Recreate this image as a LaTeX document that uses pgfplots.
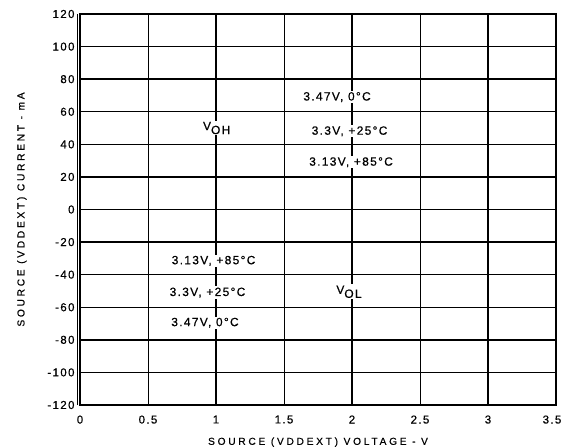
\documentclass[border=0pt]{standalone}
\usepackage{pgfplots}
\pgfplotsset{compat=1.18}
\usepackage{fontspec}
\setmainfont{Liberation Sans}
\newfontfamily\tickfont[LetterSpace=12,FakeBold=0.5]{Liberation Sans}
\newfontfamily\labfont[LetterSpace=27,FakeBold=0.4]{Liberation Sans}
\newfontfamily\txtfont[LetterSpace=11,FakeBold=0.5]{Liberation Sans}
\begin{document}
\begin{tikzpicture}
\begin{axis}[
  scale only axis,
  width=476bp, height=391bp,
  xmin=0, xmax=3.5, ymin=-120, ymax=120,
  xtick={0,0.5,1,1.5,2,2.5,3,3.5},
  xticklabels={0,0.5,1,1.5,2,2.5,3,3.5\kern8bp},
  ytick={-120,-100,-80,-60,-40,-20,0,20,40,60,80,100,120},
  /pgf/number format/assume math mode=true,
  tick label style={font=\tickfont\fontsize{11.5}{12}\selectfont},
  major tick length=0pt,
  xticklabel style={yshift=-7bp},
  yticklabel style={xshift=-2bp},
  xmajorgrids, ymajorgrids,
  x grid style={line width=0.6pt, black},
  y grid style={line width=1.5pt, black},
  axis line style={line width=1.3pt},
  xlabel={SOURCE (VDDEXT) VOLTAGE - V},
  ylabel={SOURCE (VDDEXT) CURRENT - mA},
  label style={font=\labfont\fontsize{10.2}{11}\selectfont},
  xlabel style={yshift=-7bp},
  ylabel style={yshift=14bp},
  clip=false,
]
\addplot[draw=none, forget plot] coordinates {(0,0) (3.5,0)};
% thicker lines at 1, 2, 3 V
\addplot[black, line width=1.6pt, forget plot] coordinates {(1,-120) (1,120)};
\addplot[black, line width=1.6pt, forget plot] coordinates {(2,-120) (2,120)};
\addplot[black, line width=1.6pt, forget plot] coordinates {(3,-120) (3,120)};
\begin{scope}[every node/.style={fill=white, inner sep=1.2bp, font=\txtfont\fontsize{12}{13}\selectfont}]
\node at (axis cs:1.005,50) {V\raisebox{-4bp}{OH}};
\node at (axis cs:1.978,-50.5) {V\raisebox{-4bp}{OL}};
\node at (axis cs:1.89,69) {3.47V, 0°C};
\node at (axis cs:1.982,48) {3.3V, +25°C};
\node at (axis cs:1.993,29) {3.13V, +85°C};
\node at (axis cs:0.982,-31.5) {3.13V, +85°C};
\node at (axis cs:0.9375,-51) {3.3V, +25°C};
\node at (axis cs:0.919,-69.5) {3.47V, 0°C};
\end{scope}
\draw[line width=0.8pt] ([xshift=-3bp]rel axis cs:0,0) -- ([xshift=-3bp]rel axis cs:0,1);
\coordinate (sw) at (rel axis cs:0,0);
\end{axis}
\pgfresetboundingbox
\path[use as bounding box] (sw) ++(-80bp,-43bp) rectangle ++(564bp,448bp);
\end{tikzpicture}
\end{document}
